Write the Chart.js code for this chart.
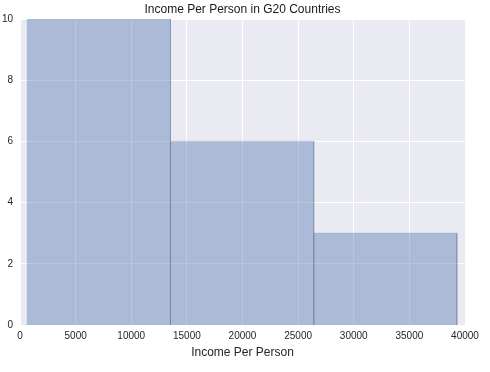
<!DOCTYPE html>
<html>
<head>
<meta charset="utf-8">
<script src="https://cdn.jsdelivr.net/npm/chart.js@4/dist/chart.umd.min.js"></script>
<style>
html,body{margin:0;padding:0;background:#fff;}
#wrap{width:490px;height:372px;}
</style>
</head>
<body>
<div id="wrap"><canvas id="c" width="490" height="372"></canvas></div>
<script>
const chartTitle = "Income Per Person in G20 Countries";
const xAxisLabel = "Income Per Person";
const binEdges = [650, 13527, 26404, 39281];
const binCounts = [10, 6, 3];
const xMin = 0, xMax = 40000, xStep = 5000;
const yMin = 0, yMax = 10, yStep = 2;

const fillColor = 'rgba(76,114,176,0.4)';
const edgeColor = 'rgba(80,100,140,0.25)';
const FONT = 'Liberation Sans, Arial, sans-serif';

const datasets = binCounts.map((c, i) => ({
  data: [
    {x: binEdges[i], y: 0},
    {x: binEdges[i], y: c},
    {x: binEdges[i+1], y: c},
    {x: binEdges[i+1], y: 0}
  ],
  showLine: true,
  fill: 'origin',
  backgroundColor: fillColor,
  borderColor: edgeColor,
  borderWidth: 1,
  pointRadius: 0,
  pointHoverRadius: 0,
  tension: 0
}));

const bgPlugin = {
  id: 'plotbg',
  beforeDraw(chart) {
    const {ctx, chartArea: a} = chart;
    ctx.save();
    ctx.fillStyle = '#EAEAF2';
    ctx.fillRect(a.left, a.top, a.right - a.left, a.bottom - a.top);
    ctx.restore();
  },
  afterDraw(chart) {
    const {ctx, chartArea: a} = chart;
    ctx.save();
    ctx.fillStyle = '#1a1a1a';
    ctx.font = '12px ' + FONT;
    ctx.textAlign = 'center';
    ctx.textBaseline = 'middle';
    ctx.fillText(chartTitle, (a.left + a.right) / 2, 10);
    ctx.restore();
  }
};

new Chart(document.getElementById('c'), {
  type: 'scatter',
  data: {datasets},
  plugins: [bgPlugin],
  options: {
    responsive: false,
    animation: false,
    events: [],
    layout: {padding: {left: 0, right: 25, top: 19, bottom: 0}},
    plugins: {
      legend: {display: false},
      tooltip: {enabled: false},
      title: {display: false}
    },
    scales: {
      x: {
        type: 'linear',
        min: xMin, max: xMax,
        border: {display: false},
        grid: {color: '#ffffff', lineWidth: 1, drawTicks: false},
        ticks: {
          stepSize: xStep,
          padding: 5,
          color: '#262626',
          font: {family: FONT, size: 10},
          maxRotation: 0,
          callback: v => String(v)
        },
        title: {
          display: true,
          text: xAxisLabel,
          color: '#262626',
          font: {family: FONT, size: 12},
          padding: {top: 0, bottom: 12}
        },
        afterFit(s) { s.height = 47; }
      },
      y: {
        type: 'linear',
        min: yMin, max: yMax,
        border: {display: false},
        grid: {color: '#ffffff', lineWidth: 1, drawTicks: false},
        ticks: {
          stepSize: yStep,
          padding: 7,
          color: '#262626',
          font: {family: FONT, size: 10}
        },
        afterFit(s) { s.width = 20; }
      }
    }
  }
});
</script>
</body>
</html>
